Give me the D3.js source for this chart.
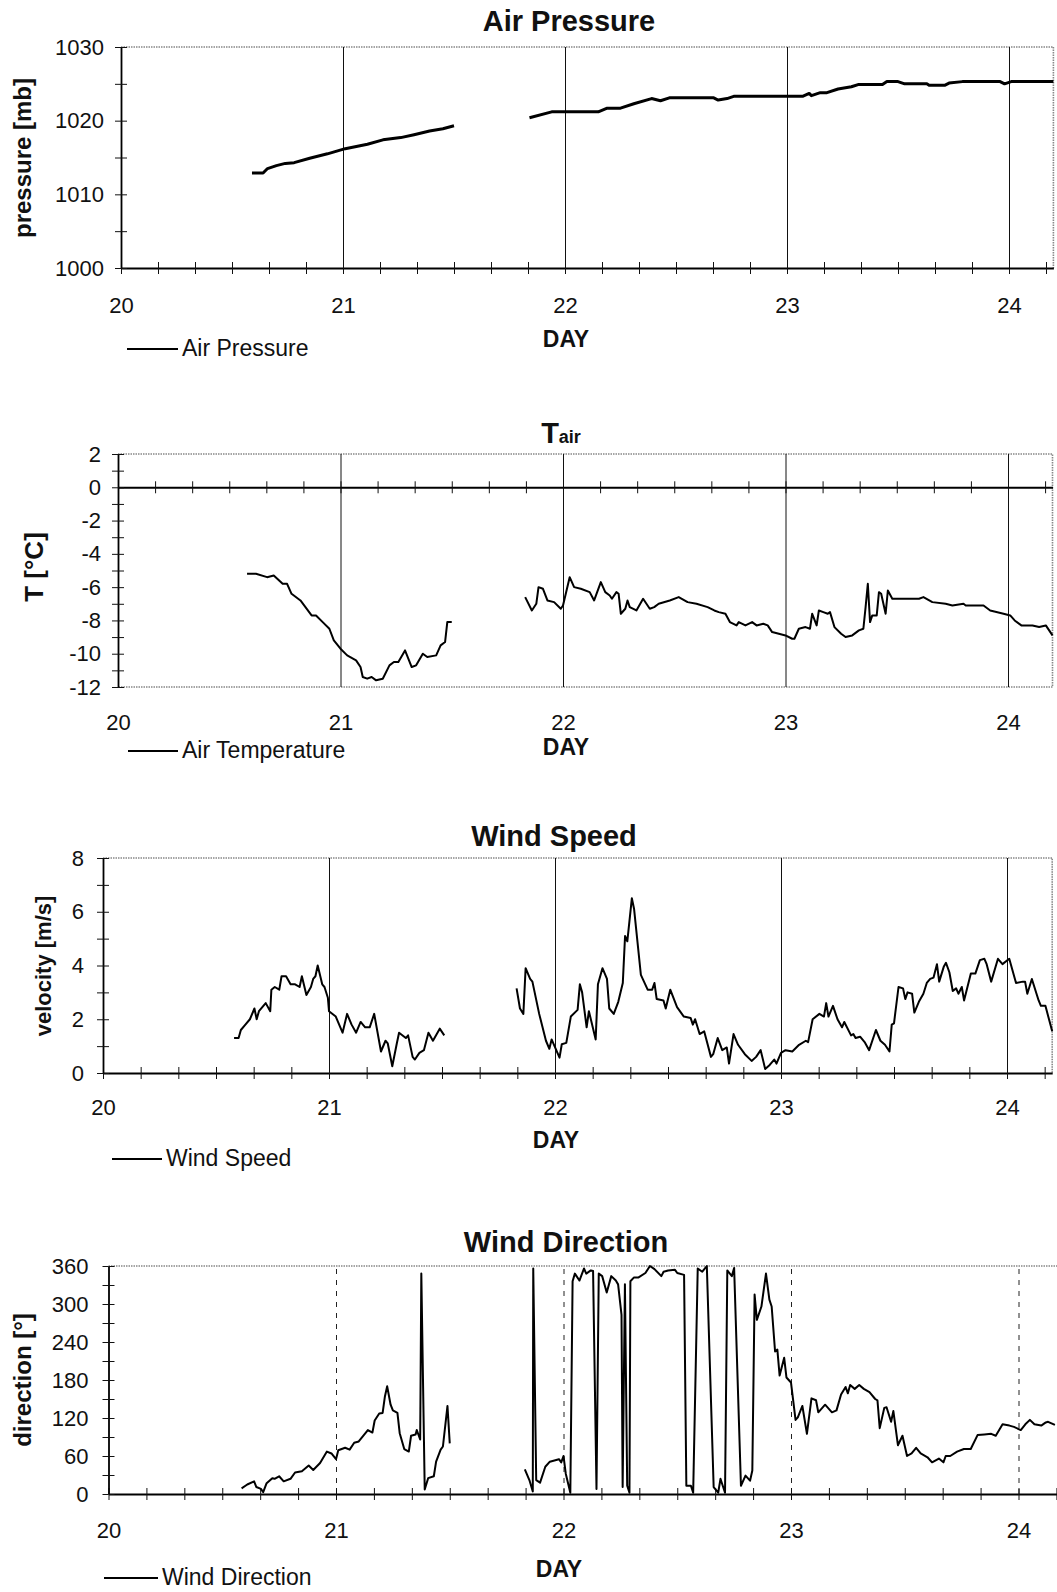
<!DOCTYPE html>
<html>
<head>
<meta charset="utf-8">
<script src="https://cdn.jsdelivr.net/npm/d3@7"></script>
<style>
  body { margin: 0; background: #fff; }
  svg text { font-family: "Liberation Sans", Arial, sans-serif; fill: #111; }
</style>
</head>
<body>
<div id="chart"></div>
<script>
//day axis shared by all four panels
var dayTicks = [20, 21, 22, 23, 24];
var dayGrid = [21, 22, 23, 24];

//air pressure (null = gap in record)
var pressureDays = [20.59, 20.64, 20.66, 20.70, 20.74, 20.78, 20.85, 20.93, 21.01, 21.11, 21.18, 21.26, 21.32, 21.39, 21.45, 21.50, null,
  21.84, 21.94, 22.15, 22.19, 22.25, 22.31, 22.39, 22.43, 22.47, 22.67, 22.69, 22.73, 22.76, 23.07, 23.10, 23.11, 23.15, 23.18, 23.23, 23.29,
  23.32, 23.43, 23.45, 23.50, 23.53, 23.63, 23.64, 23.71, 23.73, 23.79, 23.96, 23.98, 24.01, 24.20];
var pressureValues = [1012.9, 1012.9, 1013.5, 1013.9, 1014.2, 1014.3, 1014.9, 1015.5, 1016.2, 1016.8, 1017.4, 1017.7, 1018.1, 1018.6, 1018.9, 1019.3, null,
  1020.4, 1021.2, 1021.2, 1021.7, 1021.7, 1022.3, 1023.0, 1022.7, 1023.1, 1023.1, 1022.8, 1023.0, 1023.3, 1023.3, 1023.7, 1023.4, 1023.8, 1023.8, 1024.3, 1024.6,
  1024.9, 1024.9, 1025.3, 1025.3, 1025.0, 1025.0, 1024.8, 1024.8, 1025.1, 1025.3, 1025.3, 1025.0, 1025.3, 1025.3];
var pressureTicks = [1000, 1010, 1020, 1030];

//air temperature
var tempDays = [20.58, 20.62, 20.67, 20.70, 20.74, 20.76, 20.78, 20.82, 20.87, 20.89, 20.92, 20.95, 20.97, 21.00, 21.03, 21.07, 21.09, 21.10, 21.12, 21.14,
  21.16, 21.19, 21.22, 21.24, 21.26, 21.29, 21.32, 21.34, 21.37, 21.39, 21.43, 21.45, 21.47, 21.48, 21.50, null,
  21.83, 21.86, 21.88, 21.89, 21.91, 21.93, 21.96, 21.99, 22.00, 22.03, 22.05, 22.08, 22.12, 22.14, 22.17, 22.19, 22.21, 22.22, 22.24, 22.25,
  22.26, 22.28, 22.29, 22.30, 22.33, 22.36, 22.39, 22.41, 22.43, 22.48, 22.52, 22.56, 22.60, 22.65, 22.68, 22.70, 22.73, 22.75, 22.78, 22.79,
  22.82, 22.85, 22.87, 22.90, 22.92, 22.94, 22.97, 23.00, 23.03, 23.04, 23.06, 23.09, 23.11, 23.12, 23.14, 23.15, 23.17, 23.19, 23.20, 23.22,
  23.25, 23.27, 23.30, 23.33, 23.35, 23.36, 23.37, 23.38, 23.39, 23.41, 23.42, 23.43, 23.45, 23.46, 23.48, 23.54, 23.60, 23.62, 23.66, 23.72,
  23.75, 23.80, 23.81, 23.84, 23.89, 23.92, 23.98, 24.01, 24.03, 24.06, 24.11, 24.14, 24.17, 24.20];
var tempValues = [-5.2, -5.2, -5.4, -5.3, -5.8, -5.8, -6.4, -6.8, -7.7, -7.7, -8.1, -8.5, -9.2, -9.7, -10.1, -10.4, -10.8, -11.4, -11.5, -11.4,
  -11.6, -11.5, -10.7, -10.5, -10.5, -9.8, -10.8, -10.7, -10.0, -10.2, -10.1, -9.5, -9.3, -8.1, -8.1, null,
  -6.6, -7.4, -7.0, -6.0, -6.1, -6.8, -6.9, -7.3, -7.1, -5.4, -6.0, -6.1, -6.3, -6.8, -5.7, -6.3, -6.5, -6.7, -6.3, -6.4,
  -7.6, -7.3, -6.8, -7.2, -7.4, -6.7, -7.3, -7.2, -7.0, -6.8, -6.6, -6.9, -7.0, -7.2, -7.4, -7.5, -7.6, -8.1, -8.3, -8.1,
  -8.3, -8.1, -8.3, -8.2, -8.3, -8.7, -8.8, -8.9, -9.1, -9.1, -8.5, -8.4, -8.5, -7.6, -8.3, -7.4, -7.5, -7.6, -7.5, -8.4,
  -8.8, -9.0, -8.9, -8.6, -8.5, -7.2, -5.8, -8.1, -7.7, -7.7, -6.3, -6.4, -7.6, -6.2, -6.7, -6.7, -6.7, -6.6, -6.9, -7.0,
  -7.1, -7.0, -7.1, -7.1, -7.1, -7.4, -7.6, -7.7, -8.0, -8.3, -8.3, -8.4, -8.3, -8.9];
var tempTicks = [-12, -10, -8, -6, -4, -2, 0, 2];

//wind speed
var speedDays = [20.58, 20.60, 20.61, 20.63, 20.65, 20.67, 20.68, 20.69, 20.72, 20.74, 20.745, 20.76, 20.78, 20.79, 20.81, 20.83, 20.85, 20.87, 20.88, 20.90,
  20.92, 20.93, 20.94, 20.95, 20.97, 20.98, 20.995, 21.00, 21.03, 21.06, 21.08, 21.10, 21.12, 21.14, 21.16, 21.18, 21.20, 21.23, 21.25, 21.26,
  21.28, 21.30, 21.31, 21.34, 21.35, 21.37, 21.38, 21.40, 21.42, 21.44, 21.46, 21.49, 21.51, null,
  21.83, 21.845, 21.86, 21.87, 21.89, 21.90, 21.93, 21.96, 21.975, 21.985, 22.02, 22.03, 22.05, 22.07, 22.10, 22.11, 22.12, 22.14, 22.15, 22.18,
  22.19, 22.21, 22.23, 22.24, 22.26, 22.28, 22.30, 22.31, 22.32, 22.34, 22.35, 22.38, 22.41, 22.43, 22.44, 22.45, 22.48, 22.49, 22.51, 22.54,
  22.57, 22.60, 22.61, 22.62, 22.64, 22.66, 22.69, 22.70, 22.72, 22.74, 22.76, 22.77, 22.79, 22.81, 22.84, 22.87, 22.89, 22.91, 22.93, 22.95,
  22.97, 22.98, 23.00, 23.02, 23.05, 23.08, 23.11, 23.12, 23.14, 23.17, 23.19, 23.20, 23.21, 23.23, 23.25, 23.27, 23.28, 23.31, 23.32, 23.33,
  23.35, 23.37, 23.39, 23.42, 23.44, 23.46, 23.48, 23.49, 23.50, 23.52, 23.54, 23.55, 23.56, 23.58, 23.59, 23.61, 23.63, 23.645, 23.66, 23.675,
  23.69, 23.70, 23.72, 23.73, 23.745, 23.76, 23.775, 23.785, 23.80, 23.81, 23.84, 23.86, 23.88, 23.90, 23.91, 23.93, 23.96, 23.98, 24.01, 24.04,
  24.07, 24.08, 24.09, 24.11, 24.14, 24.15, 24.17, 24.20];
var speedValues = [1.3, 1.3, 1.6, 1.8, 2.0, 2.4, 2.0, 2.3, 2.6, 2.3, 3.1, 3.2, 3.1, 3.6, 3.6, 3.3, 3.3, 3.2, 3.6, 2.9,
  3.2, 3.5, 3.6, 4.0, 3.3, 3.2, 2.8, 2.3, 2.1, 1.5, 2.2, 1.8, 1.5, 1.9, 1.7, 1.7, 2.2, 0.8, 1.2, 1.1,
  0.25, 1.1, 1.5, 1.3, 1.4, 0.6, 0.5, 0.75, 0.85, 1.5, 1.2, 1.65, 1.4, null,
  3.15, 2.4, 2.2, 3.9, 3.5, 3.4, 2.2, 1.2, 0.9, 1.25, 0.57, 1.07, 1.12, 2.1, 2.35, 3.3, 3.0, 1.7, 2.3, 1.25,
  3.3, 3.9, 3.5, 2.4, 2.2, 2.65, 3.35, 5.1, 4.9, 6.5, 6.1, 3.65, 3.1, 3.1, 3.35, 2.75, 2.7, 2.4, 3.1, 2.45,
  2.1, 2.05, 1.8, 2.0, 1.45, 1.55, 0.6, 0.7, 1.3, 0.85, 0.95, 0.35, 1.45, 1.05, 0.7, 0.45, 0.6, 0.85, 0.15, 0.3,
  0.5, 0.35, 0.75, 0.85, 0.8, 1.05, 1.2, 1.15, 2.0, 2.2, 2.1, 2.6, 2.1, 2.5, 2.0, 1.7, 1.9, 1.4, 1.45, 1.3,
  1.35, 1.15, 0.85, 1.6, 1.2, 1.05, 0.8, 1.8, 1.85, 3.2, 3.15, 2.75, 3.0, 2.95, 2.25, 2.65, 2.95, 3.35, 3.5, 3.55,
  4.05, 3.4, 3.95, 4.1, 3.75, 3.05, 3.15, 2.95, 3.2, 2.7, 3.7, 3.7, 4.2, 4.25, 4.05, 3.4, 4.25, 4.05, 4.25, 3.35,
  3.4, 3.4, 2.95, 3.5, 2.7, 2.5, 2.5, 1.55];
var speedTicks = [0, 2, 4, 6, 8];

//wind direction
var dirDays = [20.585, 20.61, 20.64, 20.65, 20.67, 20.68, 20.695, 20.72, 20.73, 20.75, 20.77, 20.80, 20.82, 20.85, 20.88, 20.90, 20.93, 20.96, 20.98, 21.00,
  21.01, 21.04, 21.06, 21.08, 21.10, 21.14, 21.16, 21.17, 21.19, 21.205, 21.215, 21.225, 21.24, 21.25, 21.27, 21.28, 21.30, 21.32, 21.33, 21.35,
  21.355, 21.37, 21.375, 21.39, 21.405, 21.43, 21.44, 21.46, 21.47, 21.49, 21.50, null,
  21.83, 21.85, 21.865, 21.867, 21.88, 21.897, 21.92, 21.94, 21.96, 21.98, 21.99, 22.00, 22.01, 22.03, 22.04, 22.05, 22.07, 22.09, 22.10, 22.12,
  22.13, 22.145, 22.155, 22.17, 22.19, 22.21, 22.23, 22.24, 22.255, 22.26, 22.27, 22.28, 22.29, 22.294, 22.31, 22.33, 22.36, 22.38, 22.40, 22.43,
  22.44, 22.46, 22.49, 22.50, 22.53, 22.54, 22.56, 22.57, 22.59, 22.61, 22.63, 22.66, 22.68, 22.69, 22.71, 22.72, 22.74, 22.75, 22.78, 22.80,
  22.82, 22.83, 22.84, 22.85, 22.87, 22.89, 22.905, 22.915, 22.93, 22.94, 22.95, 22.97, 22.98, 23.00, 23.02, 23.03, 23.05, 23.07, 23.09, 23.11,
  23.12, 23.15, 23.18, 23.20, 23.22, 23.24, 23.25, 23.26, 23.28, 23.30, 23.32, 23.345, 23.37, 23.38, 23.39, 23.41, 23.42, 23.44, 23.45, 23.47,
  23.49, 23.51, 23.53, 23.55, 23.57, 23.60, 23.62, 23.65, 23.67, 23.68, 23.70, 23.73, 23.76, 23.79, 23.82, 23.85, 23.88, 23.90, 23.93, 23.96,
  23.98, 24.01, 24.03, 24.05, 24.07, 24.10, 24.12, 24.13, 24.16];
var dirValues = [9, 15, 20, 11, 8, 3, 17, 25, 24, 28, 20, 24, 34, 36, 45, 38, 49, 67, 64, 55,
  69, 73, 70, 81, 83, 101, 97, 116, 127, 128, 154, 170, 141, 132, 128, 96, 71, 67, 92, 94,
  101, 86, 348, 7, 25, 28, 51, 70, 75, 139, 80, null,
  39, 22, 4, 356, 22, 18, 43, 51, 53, 55, 50, 60, 32, 2, 336, 348, 337, 356, 348, 353,
  352, 8, 348, 344, 318, 344, 337, 331, 283, 11, 331, 13, 2, 336, 342, 342, 349, 360, 355, 344,
  351, 353, 354, 349, 346, 13, 13, 2, 356, 351, 360, 11, 2, 24, 2, 353, 344, 357, 13, 29,
  21, 37, 315, 275, 296, 348, 307, 296, 225, 228, 187, 215, 184, 176, 117, 121, 139, 95, 151, 148,
  129, 141, 129, 132, 157, 169, 159, 172, 166, 172, 166, 161, 150, 148, 104, 136, 137, 114, 131, 77,
  92, 60, 64, 73, 64, 58, 50, 56, 50, 60, 60, 67, 71, 71, 93, 94, 95, 92, 110, 108,
  106, 101, 110, 117, 110, 108, 113, 114, 109];
var dirTicks = [0, 60, 120, 180, 240, 300, 360];

//svg canvas
var svg = d3.select("#chart")
  .append("svg")
  .attr("width", 1057)
  .attr("height", 1592);

svg.append("rect").attr("width", 1057).attr("height", 1592).attr("fill", "#fff");

//plain hyphen minus like the original print
var plainNum = function(d) { return String(d); };

//draws one panel
function drawPanel(p) {
  var g = svg.append("g");
  var x = d3.scaleLinear().domain([20, 24.2]).range([p.left, p.left + 4.2 * p.daySize]);
  var y = d3.scaleLinear().domain(p.yDomain).range([p.bottom, p.top]);
  var h = p.bottom - p.top;

  //dotted frame (top, right, optional bottom)
  g.append("path")
    .attr("d", "M" + p.left + "," + p.top + "H" + x(24.2) + "V" + p.bottom + (p.bottomFrame ? "H" + p.left : ""))
    .attr("fill", "none")
    .attr("stroke", "#888")
    .attr("stroke-width", 1.6)
    .attr("stroke-dasharray", "1.5,1");

  //vertical day gridlines
  var grid = g.append("g")
    .attr("transform", "translate(0," + p.bottom + ")")
    .call(d3.axisBottom(x).tickValues(dayGrid).tickSize(-h).tickFormat(""));
  grid.select(".domain").remove();
  grid.selectAll(".tick line")
    .attr("stroke", "#222")
    .attr("stroke-width", 1)
    .attr("stroke-dasharray", p.dashedGrid ? "5,6" : null);

  //horizontal axis line with crossing ticks
  var axisY = y(p.xAxisAt);
  var minorDays = d3.range(0, 26).map(function(i) { return 20 + i / 6; });
  g.append("g")
    .attr("transform", "translate(0," + axisY + ")")
    .call(d3.axisBottom(x).tickValues(minorDays).tickSize(6).tickSizeOuter(0).tickFormat(""))
    .call(function(a) { a.select(".domain").attr("stroke-width", 2); });
  g.append("g")
    .attr("transform", "translate(0," + axisY + ")")
    .call(d3.axisTop(x).tickValues(minorDays).tickSize(6).tickSizeOuter(0).tickFormat(""))
    .select(".domain").remove();

  //day labels under the frame
  var xl = g.append("g")
    .attr("transform", "translate(0," + p.bottom + ")")
    .call(d3.axisBottom(x).tickValues(dayTicks).tickSize(0).tickPadding(p.labelPad).tickFormat(plainNum));
  xl.select(".domain").remove();
  xl.selectAll("text").attr("font-size", 22).attr("font-family", null);

  //left axis
  var minorY = d3.range(p.yDomain[0], p.yDomain[1] + 0.001, p.yMinor);
  g.append("g")
    .attr("transform", "translate(" + p.left + ",0)")
    .call(d3.axisLeft(y).tickValues(minorY).tickSize(6).tickSizeOuter(0).tickFormat(""))
    .call(function(a) { a.select(".domain").attr("stroke-width", 1.8); });
  g.append("g")
    .attr("transform", "translate(" + p.left + ",0)")
    .call(d3.axisRight(y).tickValues(minorY).tickSize(6).tickSizeOuter(0).tickFormat(""))
    .select(".domain").remove();
  var yl = g.append("g")
    .attr("transform", "translate(" + p.left + ",0)")
    .call(d3.axisLeft(y).tickValues(p.yTicks).tickSize(0).tickPadding(p.yPad).tickFormat(plainNum));
  yl.select(".domain").remove();
  yl.selectAll("text").attr("font-size", 22).attr("font-family", null);
  g.selectAll(".tick line").filter(function() { return !this.getAttribute("stroke-dasharray"); })
    .attr("stroke", "#111");

  //data line
  var data = d3.zip(p.days, p.values).map(function(d) { return {day: d[0], value: d[1]}; });
  var line = d3.line()
    .defined(function(d) { return d.value != null; })
    .x(function(d) { return x(d.day); })
    .y(function(d) { return y(d.value); });
  g.append("path")
    .datum(data)
    .attr("d", line)
    .attr("fill", "none")
    .attr("stroke", "#000")
    .attr("stroke-width", p.lineWidth)
    .attr("stroke-linejoin", "round");

  //title
  var t = g.append("text")
    .attr("x", p.titleX).attr("y", p.titleY)
    .attr("text-anchor", "middle")
    .attr("font-size", 29)
    .attr("font-weight", "bold")
    .text(p.title);
  if (p.titleSub) {
    t.append("tspan").attr("font-size", 18).text(p.titleSub);
  }

  //y axis title
  g.append("text")
    .attr("transform", "translate(" + p.yTitleX + "," + p.yTitleY + ") rotate(-90)")
    .attr("text-anchor", "middle")
    .attr("font-size", p.yTitleSize)
    .attr("font-weight", "bold")
    .text(p.yTitle);

  //DAY label
  g.append("text")
    .attr("x", p.dayX).attr("y", p.dayY)
    .attr("text-anchor", "middle")
    .attr("font-size", 23)
    .attr("font-weight", "bold")
    .text("DAY");

  //legend
  g.append("line")
    .attr("x1", p.legX1).attr("x2", p.legX2)
    .attr("y1", p.legY - 7).attr("y2", p.legY - 7)
    .attr("stroke", "#000").attr("stroke-width", 2);
  g.append("text")
    .attr("x", p.legX2 + 4).attr("y", p.legY)
    .attr("font-size", 23)
    .text(p.legend);
}

drawPanel({
  left: 121, daySize: 222, top: 47, bottom: 268, yDomain: [1000, 1030], yTicks: pressureTicks, yMinor: 5,
  xAxisAt: 1000, labelPad: 29, yPad: 17, days: pressureDays, values: pressureValues, lineWidth: 3,
  title: "Air Pressure", titleX: 569, titleY: 31,
  yTitle: "pressure [mb]", yTitleX: 31, yTitleY: 158, yTitleSize: 24,
  dayX: 566, dayY: 347, legX1: 127, legX2: 178, legY: 356, legend: "Air Pressure"
});

drawPanel({
  left: 118, daySize: 222.5, top: 454, bottom: 687, yDomain: [-12, 2], yTicks: tempTicks, yMinor: 1,
  xAxisAt: 0, labelPad: 27, yPad: 17, days: tempDays, values: tempValues, lineWidth: 2, bottomFrame: true,
  title: "T", titleSub: "air", titleX: 561, titleY: 443,
  yTitle: "T [°C]", yTitleX: 43, yTitleY: 567, yTitleSize: 26,
  dayX: 566, dayY: 755, legX1: 128, legX2: 178, legY: 758, legend: "Air Temperature"
});

drawPanel({
  left: 103, daySize: 226, top: 858, bottom: 1073, yDomain: [0, 8], yTicks: speedTicks, yMinor: 1,
  xAxisAt: 0, labelPad: 26, yPad: 19, days: speedDays, values: speedValues, lineWidth: 2,
  title: "Wind Speed", titleX: 554, titleY: 846,
  yTitle: "velocity [m/s]", yTitleX: 51, yTitleY: 966, yTitleSize: 22,
  dayX: 556, dayY: 1148, legX1: 112, legX2: 162, legY: 1166, legend: "Wind Speed"
});

drawPanel({
  left: 108.5, daySize: 227.5, top: 1266, bottom: 1494, yDomain: [0, 360], yTicks: dirTicks, yMinor: 30,
  xAxisAt: 0, labelPad: 28, yPad: 20, days: dirDays, values: dirValues, lineWidth: 2, dashedGrid: true,
  title: "Wind Direction", titleX: 566, titleY: 1252,
  yTitle: "direction [°]", yTitleX: 31, yTitleY: 1380, yTitleSize: 24,
  dayX: 559, dayY: 1577, legX1: 104, legX2: 158, legY: 1585, legend: "Wind Direction"
});
</script>
</body>
</html>
